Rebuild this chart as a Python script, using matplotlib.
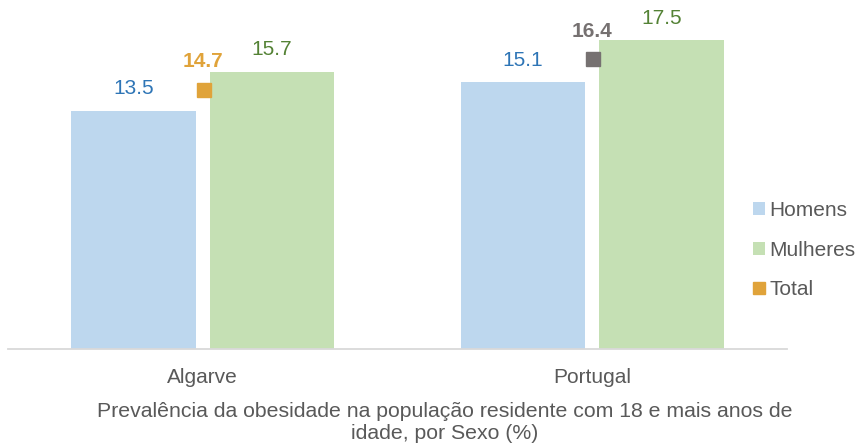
import matplotlib.pyplot as plt
import numpy as np

plt.rcParams['font.family'] = ['Liberation Sans', 'DejaVu Sans']

# data
regioes = ['Algarve', 'Portugal']
homens = [13.5, 15.1]
mulheres = [15.7, 17.5]
total = [14.7, 16.4]

cor_homens = '#BDD7EE'
cor_mulheres = '#C5E0B4'
cor_total = ['#E0A33A', '#767171']
txt_homens = '#2E75B6'
txt_mulheres = '#548235'
cinza = '#595959'
fs = 15

fig = plt.figure(figsize=(8.59, 4.48), dpi=100)
ax = fig.add_axes([8 / 859, 99 / 448, 779 / 859, 349 / 448])

x = np.arange(len(regioes))
width = 0.32
off = 0.178

b1 = ax.bar(x - off, homens, width, color=cor_homens, label='Homens')
b2 = ax.bar(x + off, mulheres, width, color=cor_mulheres, label='Mulheres')
for i in range(len(x)):
    ax.plot(x[i] + 0.002, total[i], marker='s', markersize=10, color=cor_total[i],
            linestyle='none', label='Total' if i == 0 else None)

# data labels
for p, v in zip(b1, homens):
    ax.annotate('{}'.format(v), xy=(p.get_x() + p.get_width() / 2, v),
                xytext=(0, 9), textcoords='offset points', ha='center', va='bottom',
                fontsize=fs, color=txt_homens)
for p, v in zip(b2, mulheres):
    ax.annotate('{}'.format(v), xy=(p.get_x() + p.get_width() / 2, v),
                xytext=(0, 9), textcoords='offset points', ha='center', va='bottom',
                fontsize=fs, color=txt_mulheres)
for i, v in enumerate(total):
    ax.annotate('{}'.format(v), xy=(x[i], v), xytext=(0, 13), textcoords='offset points',
                ha='center', va='bottom', fontsize=fs, fontweight='bold', color=cor_total[i])

ax.set_xlim(-0.5, 1.5)
ax.set_ylim(0, 19.77)
ax.set_yticks([])
ax.set_xticks(x)
ax.set_xticklabels(regioes, fontsize=fs, color=cinza)
ax.tick_params(axis='x', length=0, pad=14)
for s in ['top', 'right', 'left']:
    ax.spines[s].set_visible(False)
ax.spines['bottom'].set_color('#D9D9D9')
ax.spines['bottom'].set_linewidth(1.3)

fig.text(445 / 859, 1 - 422 / 448,
         'Prevalência da obesidade na população residente com 18 e mais anos de\nidade, por Sexo (%)',
         ha='center', va='center', fontsize=15.3, color=cinza, linespacing=1.2)

handles, labels = ax.get_legend_handles_labels()
ordem = [labels.index(n) for n in ['Homens', 'Mulheres', 'Total']]
leg = fig.legend([handles[k] for k in ordem], [labels[k] for k in ordem],
                 loc='center left', bbox_to_anchor=(734 / 859, 1 - 250 / 448), frameon=False,
                 fontsize=fs, handlelength=0.6, handleheight=0.6, handletextpad=0.2,
                 labelspacing=1.0, labelcolor=cinza)
for h in leg.legend_handles:
    try:
        h.set_markersize(8)
    except AttributeError:
        pass

fig.savefig('out.png', dpi=100)
